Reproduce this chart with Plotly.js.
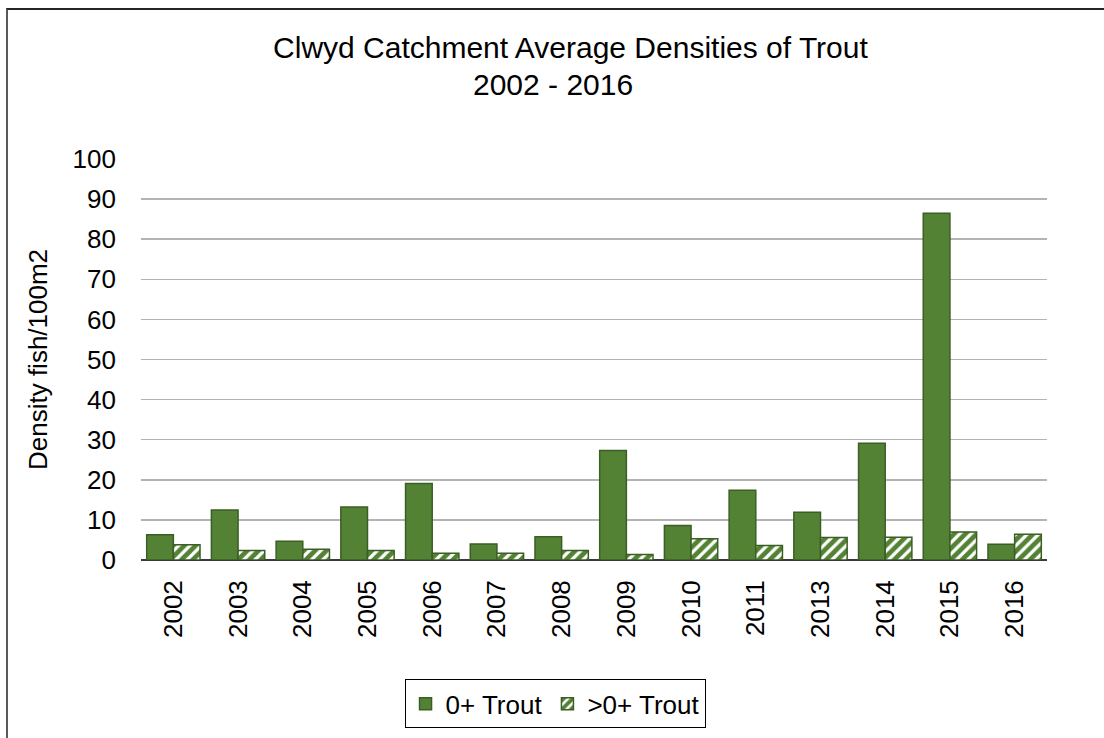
<!DOCTYPE html>
<html>
<head>
<meta charset="utf-8">
<script src="https://cdn.plot.ly/plotly-3.0.1.min.js"></script>
<style>
html,body{margin:0;padding:0;background:#fff;}
#frame{position:absolute;left:6px;top:8px;width:1200px;height:800px;border-left:2px solid #595959;border-top:2px solid #262626;pointer-events:none;z-index:10;}
#chart{width:1104px;height:738px;}
</style>
</head>
<body>
<div id="frame"></div>
<div id="chart"></div>
<script>
const years = ['2002','2003','2004','2005','2006','2007','2008','2009','2010','2011','2013','2014','2015','2016'];
const trout0 = [6.3, 12.5, 4.7, 13.2, 19.1, 4.0, 5.8, 27.3, 8.6, 17.4, 11.9, 29.1, 86.5, 3.9];
const troutOlder = [3.8, 2.4, 2.7, 2.4, 1.7, 1.7, 2.4, 1.4, 5.3, 3.6, 5.6, 5.7, 7.0, 6.4];
const yTicks = [0,10,20,30,40,50,60,70,80,90,100];
const titleLine1 = 'Clwyd Catchment Average Densities of Trout';
const titleLine2 = '2002 - 2016';

const green = '#548235';
const edge = '#3b5e25';
const font = 'Liberation Sans, Arial, sans-serif';

const traces = [
  {type:'bar', name:'0+ Trout', x:years, y:trout0,
   marker:{color:green, line:{color:edge, width:1.5}}},
  {type:'bar', name:'>0+ Trout', x:years, y:troutOlder,
   marker:{color:green, line:{color:edge, width:1.5},
     pattern:{shape:'/', fillmode:'replace', fgcolor:green, bgcolor:'#ffffff', size:8, solidity:0.6}}}
];

const layout = {
  width:1104, height:738,
  paper_bgcolor:'#ffffff', plot_bgcolor:'#ffffff',
  margin:{l:141, r:57, t:159, b:178, autoexpand:false},
  font:{family:font, color:'#000000', size:26},
  title:{text:titleLine1,
    x:0.474, xref:'paper', xanchor:'center', y:1 - 58/738, yref:'container', yanchor:'bottom',
    font:{family:font, size:30, color:'#000000'}},
  annotations:[{text:titleLine2, xref:'paper', yref:'paper', x:0.455, y:1 + (159-84)/401,
    xanchor:'center', yanchor:'middle', showarrow:false, font:{family:font, size:30, color:'#000000'}}],
  barmode:'group', bargap:0.176, bargroupgap:0,
  showlegend:true,
  legend:{orientation:'h', x:0.457, xanchor:'center', xref:'paper', y:-0.359, yanchor:'middle',
    bordercolor:'#000000', borderwidth:1, font:{family:font, size:26, color:'#000000'},
    itemwidth:30, traceorder:'normal'},
  xaxis:{type:'category', tickangle:-90, tickfont:{family:font, size:26, color:'#000000'},
    showgrid:false, showline:false, ticks:'', automargin:false, ticklabelstandoff:14},
  yaxis:{range:[0,100], tickvals:yTicks, ticktext:yTicks.map(String),
    tickfont:{family:font, size:26, color:'#000000'},
    showgrid:true, gridcolor:'#b3b3b3', gridwidth:1.5,
    zeroline:true, zerolinecolor:'#3a3a3a', zerolinewidth:1.5,
    showline:false, ticks:'', automargin:false, ticklabelstandoff:24,
    title:{text:'Density fish/100m2', font:{family:font, size:26, color:'#000000'}, standoff:17}}
};

Plotly.newPlot('chart', traces, layout, {displayModeBar:false, staticPlot:true});
</script>
</body>
</html>
